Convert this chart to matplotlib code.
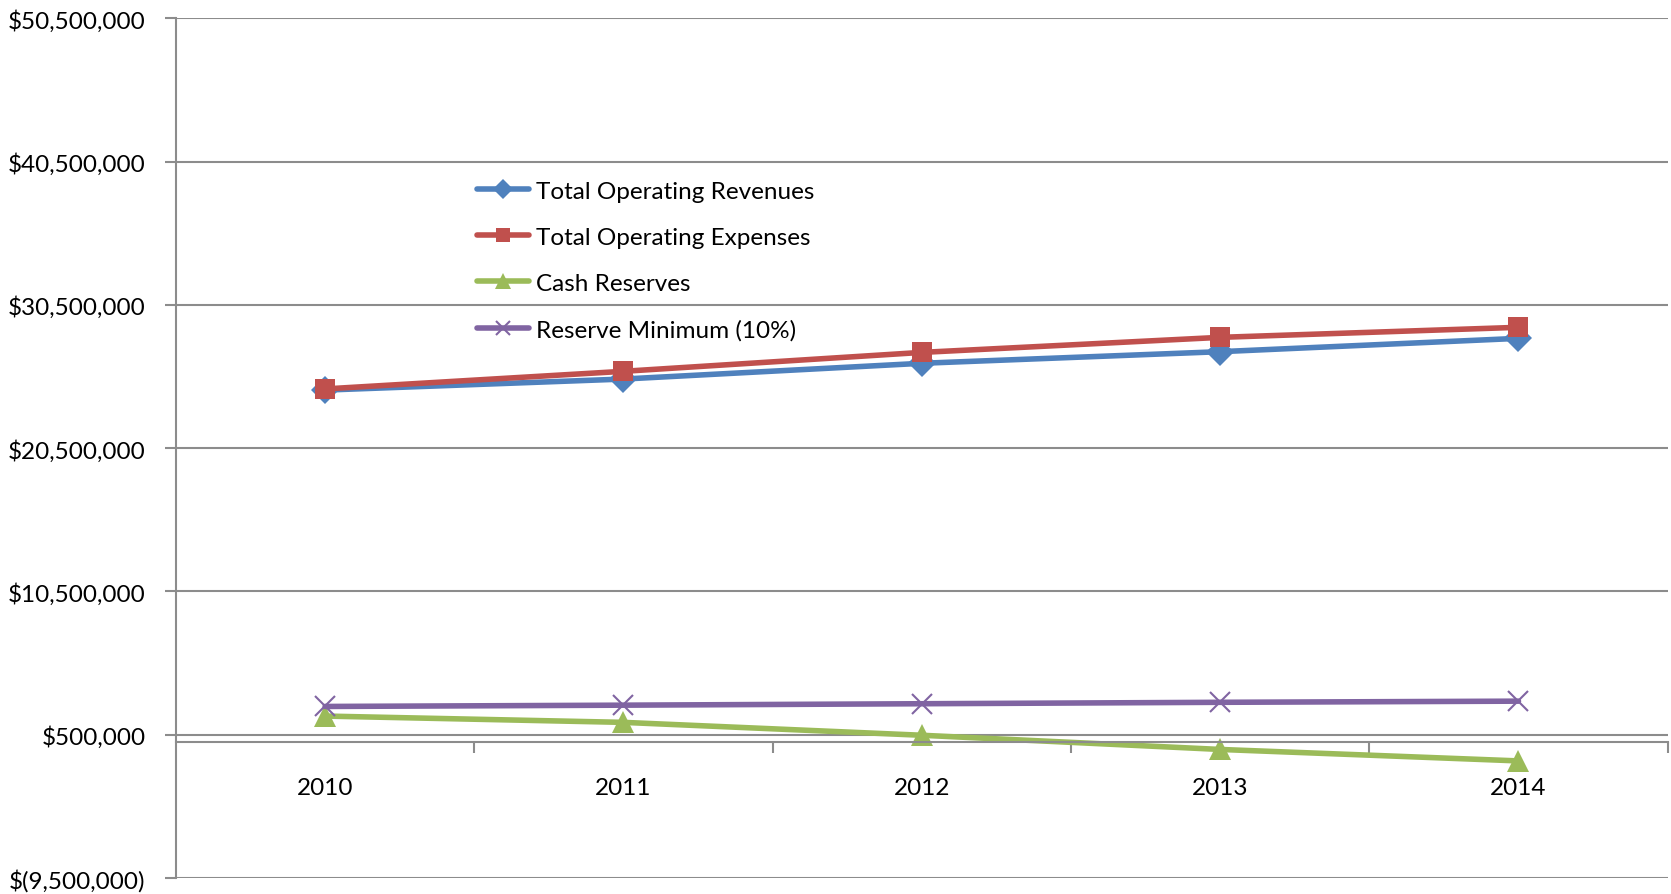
import matplotlib.pyplot as plt
from matplotlib.ticker import FixedLocator, FuncFormatter

# yearly figures, in dollars
years = ['2010', '2011', '2012', '2013', '2014']
revenues = [24550000, 25320000, 26420000, 27230000, 28160000]
expenses = [24630000, 25860000, 27180000, 28230000, 28930000]
cash_reserves = [1800000, 1360000, 460000, -530000, -1330000]
reserve_minimum = [2470000, 2560000, 2660000, 2760000, 2840000]

y_ticks = [-9500000, 500000, 10500000, 20500000, 30500000, 40500000, 50500000]

plt.rcParams['font.family'] = ['Lato', 'DejaVu Sans']

fig = plt.figure(figsize=(16.71, 8.95), dpi=100)
ax = fig.add_axes([0.1053, 0.0179, 0.8927, 0.9606])

x = range(len(years))
series = [
    (revenues, 'Total Operating Revenues', '#4F81BD', 'D', 14),
    (expenses, 'Total Operating Expenses', '#C0504D', 's', 15),
    (cash_reserves, 'Cash Reserves', '#9BBB59', '^', 16),
    (reserve_minimum, 'Reserve Minimum (10%)', '#8064A2', 'x', 15),
]
for values, label, color, marker, size in series:
    ax.plot(x, values, color=color, lw=4, marker=marker, ms=size,
            mew=1.5 if marker == 'x' else 0, mec=color, label=label,
            solid_capstyle='round')


def money(v, pos):
    if v < 0:
        return '$({:,.0f})'.format(-v)
    return '${:,.0f}'.format(v)


ax.set_ylim(-9500000, 50500000)
ax.set_xlim(-0.5, len(years) - 0.5)
ax.yaxis.set_major_locator(FixedLocator(y_ticks))
ax.yaxis.set_major_formatter(FuncFormatter(money))
ax.grid(axis='y', color='#8c8c8c', lw=1.5)
ax.set_axisbelow(True)

# category axis sits at zero, with ticks between the years
ax.spines['bottom'].set_position(('data', 0))
ax.set_xticks(list(x))
ax.set_xticklabels(years)
ax.set_xticks([i + 0.5 for i in x], minor=True)
ax.tick_params(axis='x', which='major', length=0, pad=25, labelsize=17.5)
ax.tick_params(axis='x', which='minor', length=8, width=1.5, color='#8c8c8c', direction='out')
ax.tick_params(axis='y', length=8, width=1.5, color='#8c8c8c', labelsize=17.5, pad=14)

for side in ['top', 'right']:
    ax.spines[side].set_visible(False)
for side in ['left', 'bottom']:
    ax.spines[side].set_color('#8c8c8c')
    ax.spines[side].set_linewidth(1.5)

ax.legend(loc='upper left', bbox_to_anchor=(0.2856, 0.797), bbox_transform=fig.transFigure,
          frameon=False, fontsize=17.5, handlelength=2.15, handletextpad=0.25,
          labelspacing=1.03, markerscale=0.7, borderpad=0, borderaxespad=0)

fig.savefig('out.png', dpi=100)
